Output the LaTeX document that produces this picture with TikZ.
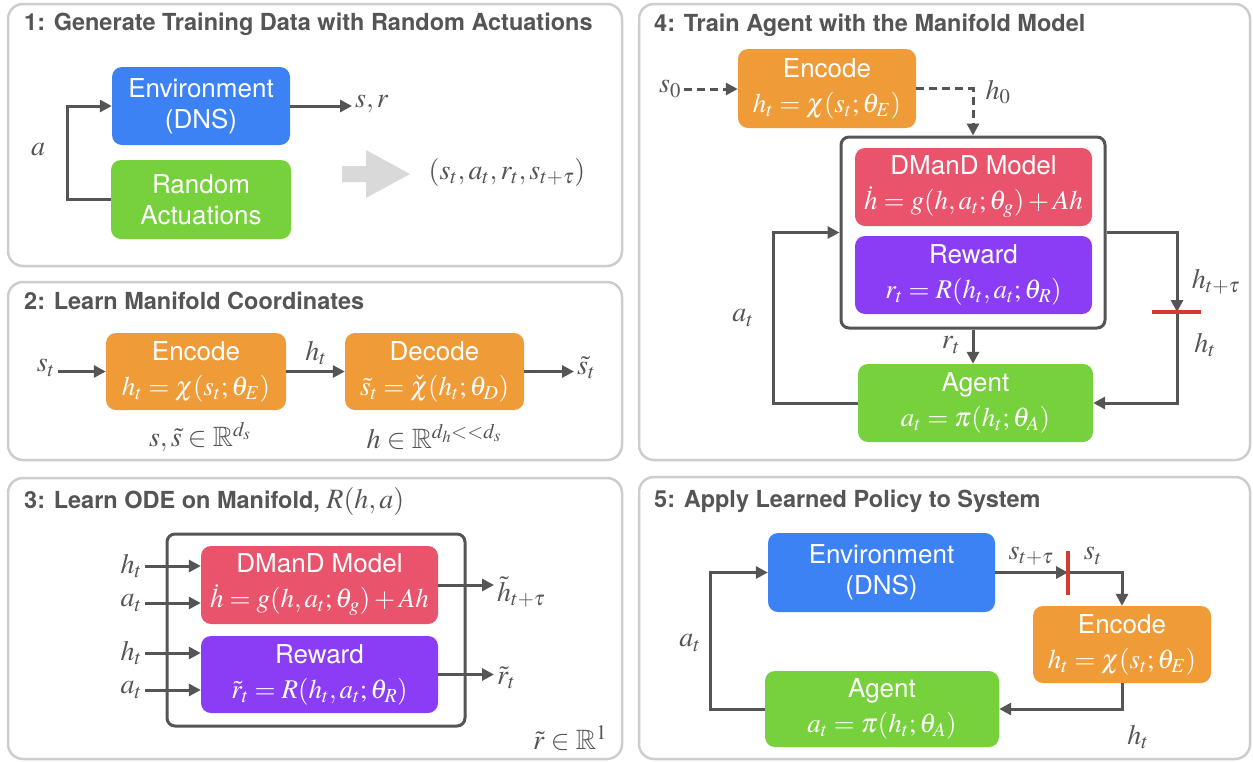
\documentclass[tikz,border=0pt]{standalone}
\usepackage{amssymb}
\usepackage{mathptmx}
\usepackage[no-math]{fontspec}
\setmainfont{TeX Gyre Heros}
\usetikzlibrary{arrows.meta,positioning}

\definecolor{envblue}{HTML}{3D82F5}
\definecolor{agentgreen}{HTML}{77D13D}
\definecolor{encorange}{HTML}{EF9B38}
\definecolor{odered}{HTML}{E9546C}
\definecolor{rewpurple}{HTML}{8A3DF4}
\definecolor{wire}{HTML}{555555}
\definecolor{titlegray}{HTML}{555555}
\definecolor{panelgray}{HTML}{CDCDCD}
\definecolor{cutred}{HTML}{D63A2C}
\definecolor{bigarrow}{HTML}{D9D9D9}

% formula line inside a block
\newcommand{\boxeq}[1]{{\fontsize{27}{35}\selectfont$#1$}}

\tikzset{
  panel/.style={draw=panelgray, line width=2.5pt, rounded corners=15pt, fill=white},
  panel title/.style={anchor=base west, inner sep=0pt, text=titlegray,
    font=\fontsize{23.5}{26}\selectfont\bfseries},
  block/.style={rounded corners=10pt, text=white, align=center, inner sep=0pt,
    minimum width=178pt, minimum height=78pt,
    font=\fontsize{26}{31}\selectfont},
  eqblock/.style={block, font=\fontsize{26}{35}\selectfont},
  frame/.style={draw=wire, line width=3pt, rounded corners=8pt},
  flow/.style={draw=wire, line width=3pt, -{Triangle[length=12pt,width=12pt]}},
  dashflow/.style={flow, dash pattern=on 8pt off 5pt},
  cutbar/.style={draw=cutred, line width=4pt},
  var/.style={inner sep=3pt, text=wire, font=\fontsize{28}{32}\selectfont},
}

\begin{document}
\begin{tikzpicture}[x=1pt, y=-1pt]
\useasboundingbox (0,0) rectangle (1253,761);

% 1: data generation
\draw[panel] (8,4) rectangle (622,266);
\node[panel title] (title1) at (24,30) {1: Generate Training Data with Random Actuations};
\node[block, fill=envblue] (env1) at (201,106) {Environment\\(DNS)};
\node[block, fill=agentgreen, minimum width=180pt, minimum height=79pt] (rand1) at (201,199.5) {Random\\Actuations};
\node[var] (a1) at (38,150) {$a$};
\node[var, anchor=west] (sr1) at (352,104) {$s, r$};
\draw[flow] (rand1.west) -- ++(-43,0) |- (env1.west);
\draw[flow] (env1.east) -- (env1.east -| sr1.west);
\fill[bigarrow] (342,166) -- (366,166) -- (366,150) -- (410,174) -- (366,198) -- (366,182) -- (342,182) -- cycle;
\node[var] (batch1) at (507,172) {$(s_t, a_t, r_t, s_{t+\tau})$};

% 2: autoencoder
\draw[panel] (8,282) rectangle (622,460);
\node[panel title] (title2) at (24,309) {2: Learn Manifold Coordinates};
\node[eqblock, fill=encorange, minimum width=180pt, minimum height=77pt] (enc2) at (196,371.5) {Encode\\\boxeq{h_t = \chi(s_t;\theta_E)}};
\node[eqblock, fill=encorange, minimum width=179pt, minimum height=77pt] (dec2) at (434.5,371.5) {Decode\\\boxeq{\tilde s_t = \check\chi(h_t;\theta_D)}};
\node[var, anchor=east] (s2) at (58,368) {$s_t$};
\node[var] (h2) at (316,353) {$h_t$};
\node[var, anchor=west] (st2) at (574,368) {$\tilde s_t$};
\draw[flow] (s2.east |- enc2.west) -- (enc2.west);
\draw[flow] (enc2) -- (dec2);
\draw[flow] (dec2.east) -- (dec2.east -| st2.west);
\node[var] (dims2) at (200,437) {$s, \tilde s \in \mathbb{R}^{d_s}$};
\node[var] (dimh2) at (434,437) {$h \in \mathbb{R}^{d_h{<}{<}d_s}$};

% 3: dynamics and reward
\draw[panel] (8,478) rectangle (622,759);
\node[panel title] (title3) at (24,508) {3: Learn ODE on Manifold, {\fontsize{28}{30}\selectfont$R(h, a)$}};
\node[frame, minimum width=298pt, minimum height=192pt] (frame3) at (316,630) {};
\node[eqblock, fill=odered, minimum width=237pt] (ode3) at (319.5,585) {DManD Model\\\boxeq{\dot h = g(h, a_t;\theta_g) + Ah}};
\node[eqblock, fill=rewpurple, minimum width=237pt, minimum height=77pt] (rew3) at (319.5,674.5) {Reward\\\boxeq{\tilde r_t = R(h_t, a_t;\theta_R)}};
\foreach \y/\v/\blk [count=\i] in {566/h/ode3, 603/a/ode3, 653/h/rew3, 690/a/rew3} {
  \node[var, anchor=east] (in3\i) at (145,\y) {$\v_t$};
  \draw[flow] (in3\i) -- (in3\i -| \blk.west);
}
\node[var, anchor=west] (hout3) at (494,592) {$\tilde h_{t+\tau}$};
\draw[flow] (ode3.east) -- (ode3.east -| hout3.west);
\node[var, anchor=west] (rout3) at (494,678) {$\tilde r_t$};
\draw[flow] (rew3.east) -- (rew3.east -| rout3.west);
\node[var] (dimr3) at (570,738) {$\tilde r \in \mathbb{R}^1$};

% 4: agent training loop
\draw[panel] (639,4) rectangle (1250,460);
\node[panel title] (title4) at (654,31) {4: Train Agent with the Manifold Model};
\node[eqblock, fill=encorange, minimum height=79pt] (enc4) at (827,88.5) {Encode\\\boxeq{h_t = \chi(s_t;\theta_E)}};
\node[frame, minimum width=264pt, minimum height=191pt] (frame4) at (973,232.5) {};
\node[eqblock, fill=odered, minimum width=237pt] (ode4) at (973.5,187) {DManD Model\\\boxeq{\dot h = g(h, a_t;\theta_g) + Ah}};
\node[eqblock, fill=rewpurple, minimum width=237pt] (rew4) at (973.5,275) {Reward\\\boxeq{r_t = R(h_t, a_t;\theta_R)}};
\node[eqblock, fill=agentgreen, minimum width=235pt] (agent4) at (975.5,403) {Agent\\\boxeq{a_t = \pi(h_t;\theta_A)}};
\node[var] (s04) at (670,89) {$s_0$};
\node[var] (h04) at (998,92) {$h_0$};
\draw[dashflow] (s04) -- (s04 -| enc4.west);
\draw[dashflow] (enc4.east) -| (frame4.north);
\coordinate (cut4) at (1177,312);
\draw[flow] (agent4.west) -- ++(-84,0) |- (frame4.west);
\draw[flow] (frame4.east) -| (cut4);
\draw[flow] (cut4) |- (agent4.east);
\draw[cutbar] ([xshift=-25pt]cut4) -- ([xshift=24pt]cut4);
\draw[flow] (frame4.south) -- (frame4.south |- agent4.north);
\node[var] (a4) at (743,318) {$a_t$};
\node[var] (r4) at (951,345) {$r_t$};
\node[var] (hn4) at (1216,282) {$h_{t+\tau}$};
\node[var] (h4) at (1205,345) {$h_t$};

% 5: deployment loop
\draw[panel] (639,477) rectangle (1250,759);
\node[panel title] (title5) at (654,507) {5: Apply Learned Policy to System};
\node[block, fill=envblue, minimum width=227pt, minimum height=79pt] (env5) at (881.5,572.5) {Environment\\(DNS)};
\node[eqblock, fill=encorange, minimum height=77pt] (enc5) at (1122,644.5) {Encode\\\boxeq{h_t = \chi(s_t;\theta_E)}};
\node[eqblock, fill=agentgreen, minimum width=234pt, minimum height=76pt] (agent5) at (882,709) {Agent\\\boxeq{a_t = \pi(h_t;\theta_A)}};
\coordinate (cut5) at (1068,572.5);
\draw[flow] (env5.east) -- (cut5);
\draw[flow] (cut5) -| (enc5.north);
\draw[cutbar] ([yshift=22pt]cut5) -- ([yshift=-22pt]cut5);
\draw[flow] (enc5.south) |- (agent5.east);
\draw[flow] (agent5.west) -- ++(-54,0) |- (env5.west);
\node[var] (sn5) at (1031,556) {$s_{t+\tau}$};
\node[var] (s5) at (1093,556) {$s_t$};
\node[var] (h5) at (1138,737) {$h_t$};
\node[var] (a5) at (690,643) {$a_t$};
\end{tikzpicture}
\end{document}
